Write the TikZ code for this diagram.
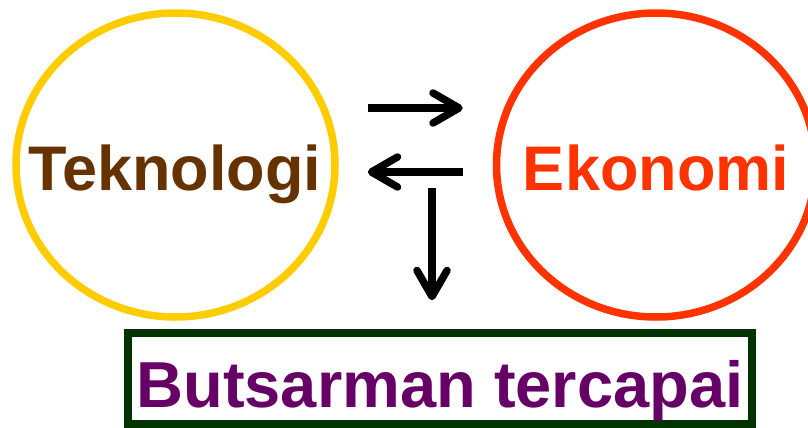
\documentclass[tikz,border=0pt]{standalone}
\usepackage{fontspec}
\setsansfont{Liberation Sans}
\usepackage{tikz}
\usetikzlibrary{shapes.geometric,arrows.meta}

\definecolor{tekgold}{HTML}{FFCC00}
\definecolor{tekbrown}{HTML}{663300}
\definecolor{ekored}{HTML}{FF3300}
\definecolor{goalgreen}{HTML}{003300}
\definecolor{goalpurple}{HTML}{660066}

\begin{document}
\begin{tikzpicture}[
   x=1pt,y=-1pt,
   font=\sffamily\bfseries,
   bubble/.style={ellipse,line width=7.5pt,minimum width=319pt,minimum height=304pt,inner sep=0pt},
   word/.style={anchor=base,inner sep=0pt,font=\sffamily\bfseries\fontsize{63}{70}\selectfont},
   goal/.style={draw=goalgreen,line width=7.5pt,minimum width=624pt,minimum height=91pt,inner sep=0pt,
      text height=57pt,text depth=0pt,text=goalpurple,font=\sffamily\bfseries\fontsize{65}{72}\selectfont},
   to/.style={-{Straight Barb[length=26pt,width=30pt,round]},line width=7.5pt,black}]
\useasboundingbox (0,0) rectangle (808,428);
\node[bubble,draw=tekgold] (tek) at (175.5,165) {};
\node[bubble,draw=ekored] (eko) at (656,165) {};
\node[word,text=tekbrown] (tekword) at (175,190) {Teknologi};
\node[word,text=ekored] (ekoword) at (656,190) {Ekonomi};
\node[goal] (goal) at (440,378.5) {Butsarman tercapai};
\coordinate (fork) at (432,188);
\draw[to,shorten <=29pt,shorten >=30pt] ([yshift=57pt]tek.east) -- ([yshift=57pt]eko.west);
\draw[to,shorten <=30pt,shorten >=29pt] ([yshift=-7pt]eko.west) -- ([yshift=-7pt]tek.east);
\draw[to,shorten >=29pt] (fork) -- (fork |- goal.north);
\end{tikzpicture}
\end{document}
